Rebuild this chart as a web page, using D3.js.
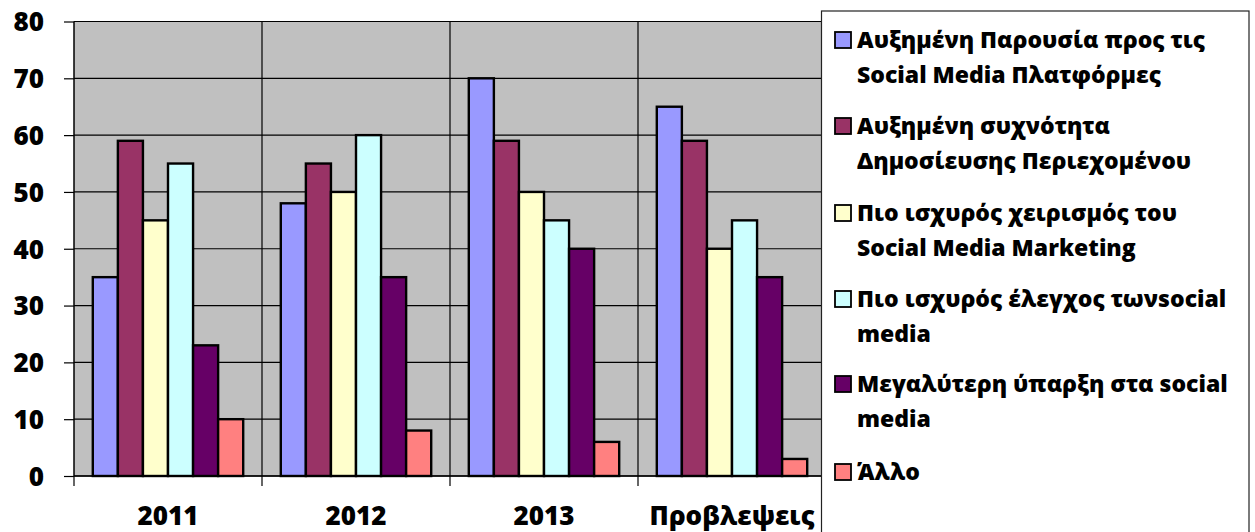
<!DOCTYPE html>
<html><head><meta charset="utf-8">
<script src="https://cdn.jsdelivr.net/npm/d3@7/dist/d3.min.js"></script>
<style>body{margin:0;background:#fff}svg{display:block}</style>
</head><body><svg id="c" width="1255" height="532"></svg>
<script>
const categories = ["2011", "2012", "2013", "Προβλεψεις"];
const seriesNames = [
  ["Αυξημένη Παρουσία προς τις", "Social Media Πλατφόρμες"],
  ["Αυξημένη συχνότητα", "Δημοσίευσης Περιεχομένου"],
  ["Πιο ισχυρός χειρισμός του", "Social Media Marketing"],
  ["Πιο ισχυρός έλεγχος τωνsocial", "media"],
  ["Μεγαλύτερη ύπαρξη στα social", "media"],
  ["Άλλο"]
];
const s1 = [35, 48, 70, 65];
const s2 = [59, 55, 59, 59];
const s3 = [45, 50, 50, 40];
const s4 = [55, 60, 45, 45];
const s5 = [23, 35, 40, 35];
const s6 = [10, 8, 6, 3];
const seriesValues = [s1, s2, s3, s4, s5, s6];
const colors = ["#9999FF", "#993366", "#FFFFCC", "#CCFFFF", "#660066", "#FF8080"];
const yTicks = [0, 10, 20, 30, 40, 50, 60, 70, 80];

const svg = d3.select("#c");
const FONT = "'Open Sans', 'Liberation Sans', sans-serif";
const W = 800;
const L = 74, R = 826, T = 21.5, B = 476;

const x0 = d3.scaleBand().domain(categories).range([L, R]).paddingInner(0).paddingOuter(0);
const x1 = d3.scaleBand().domain(d3.range(6)).range([0, x0.bandwidth()]).paddingInner(0).paddingOuter(0.75).align(0.5);
const y = d3.scaleLinear().domain([0, 80]).range([B, T]);

svg.append("rect").attr("x", L).attr("y", T).attr("width", R - L).attr("height", B - T).attr("fill", "#C0C0C0");

svg.append("g").selectAll("line").data(yTicks).join("line")
  .attr("x1", L).attr("x2", R).attr("y1", d => y(d)).attr("y2", d => y(d))
  .attr("stroke", "#000").attr("stroke-width", 1.2);
const bounds = categories.map(c => x0(c)).concat([R]);
svg.append("g").selectAll("line").data(bounds.slice(1)).join("line")
  .attr("x1", d => d).attr("x2", d => d).attr("y1", T).attr("y2", B)
  .attr("stroke", "#000").attr("stroke-width", 1.2);

const groups = svg.append("g").selectAll("g").data(categories).join("g")
  .attr("transform", c => `translate(${x0(c)},0)`);
groups.selectAll("rect").data((c, ci) => seriesValues.map((s, si) => ({si, v: s[ci]}))).join("rect")
  .attr("x", d => x1(d.si)).attr("width", x1.bandwidth())
  .attr("y", d => y(d.v)).attr("height", d => y(0) - y(d.v))
  .attr("fill", d => colors[d.si]).attr("stroke", "#000").attr("stroke-width", 2.4);

const yAxis = d3.axisLeft(y).tickValues(yTicks).tickSize(10).tickPadding(20);
const ya = svg.append("g").attr("transform", `translate(${L},0)`).call(yAxis);
ya.select(".domain").attr("stroke", "#000").attr("stroke-width", 1.5).attr("d", `M-0,${T}V${B}`);
ya.selectAll(".tick line").attr("stroke", "#000").attr("stroke-width", 1.2);
ya.selectAll(".tick text").attr("font-family", FONT).attr("font-weight", W)
  .attr("font-size", 26).attr("fill", "#000").attr("x", -30).attr("dy", "0.36em");

const xa = svg.append("g");
xa.append("line").attr("x1", L).attr("x2", R).attr("y1", B).attr("y2", B).attr("stroke", "#000").attr("stroke-width", 1.5);
xa.selectAll("line.t").data(bounds).join("line").attr("class", "t")
  .attr("x1", d => d).attr("x2", d => d).attr("y1", B).attr("y2", B + 10)
  .attr("stroke", "#000").attr("stroke-width", 1.2);
xa.selectAll("text").data(categories).join("text")
  .attr("x", c => x0(c) + x0.bandwidth() / 2).attr("y", 525)
  .attr("text-anchor", "middle").attr("font-family", FONT).attr("font-weight", W)
  .attr("font-size", 26).attr("fill", "#000").text(c => c);

const lg = svg.append("g");
lg.append("rect").attr("x", 821.5).attr("y", 11).attr("width", 427.5).attr("height", 540)
  .attr("fill", "#fff").attr("stroke", "#222").attr("stroke-width", 1.2);
const entryTop = [40, 126, 213, 299, 384, 472];
seriesNames.forEach((lines, i) => {
  const cy = entryTop[i];
  lg.append("rect").attr("x", 835).attr("y", cy - 8).attr("width", 16).attr("height", 16)
    .attr("fill", colors[i]).attr("stroke", "#000").attr("stroke-width", 1.8);
  lines.forEach((t, j) => {
    lg.append("text").attr("x", 857).attr("y", cy + 8 + j * 35)
      .attr("font-family", FONT).attr("font-weight", W).attr("font-size", 23)
      .attr("fill", "#000").text(t);
  });
});
</script></body></html>
